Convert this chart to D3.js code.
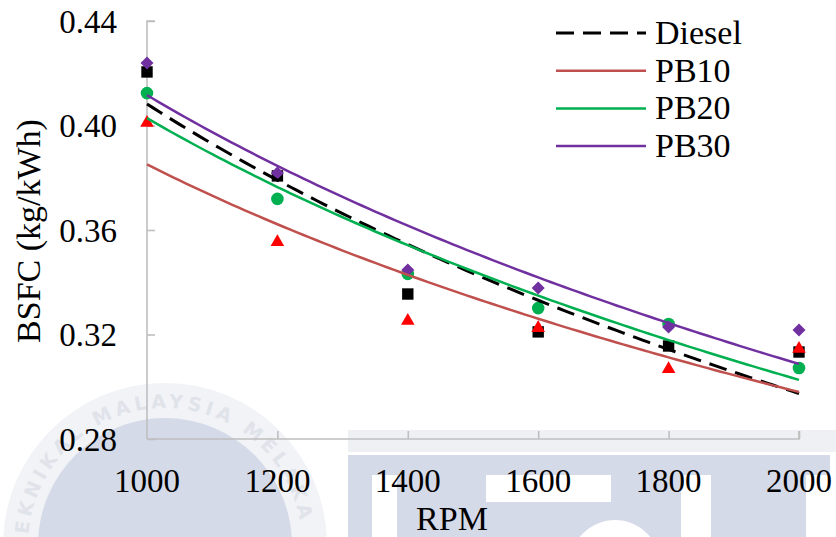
<!DOCTYPE html>
<html>
<head>
<meta charset="utf-8">
<script src="https://cdn.jsdelivr.net/npm/d3@7"></script>
<style>
  body { margin: 0; background: #fff; }
  svg { display: block; }
</style>
</head>
<body>
<div id="grafico"></div>
<script>
const WIDTH = 836;
const HEIGHT = 537;

// datos
const rpm = [1000, 1200, 1400, 1600, 1800, 2000];
const diesel = [0.4205, 0.3807, 0.3355, 0.3210, 0.3156, 0.3133];
const pb10 = [0.4010, 0.3554, 0.3252, 0.3225, 0.3068, 0.3145];
const pb20 = [0.4124, 0.3719, 0.3432, 0.3301, 0.3240, 0.3072];
const pb30 = [0.4239, 0.3818, 0.3447, 0.3378, 0.3229, 0.3217];
const seriesNames = ["Diesel", "PB10", "PB20", "PB30"];
const xTicks = [1000, 1200, 1400, 1600, 1800, 2000];
const yTicks = [0.28, 0.32, 0.36, 0.40, 0.44];

const series = [
    {name: "Diesel", values: diesel, color: "#000000", marker: "#000000", symbol: d3.symbolSquare, size: 130, rot: 0, dash: "18,9", width: 3},
    {name: "PB10", values: pb10, color: "#c0504d", marker: "#ff0000", symbol: d3.symbolTriangle, size: 80, rot: 0, dash: null, width: 2.5},
    {name: "PB20", values: pb20, color: "#00b050", marker: "#00b050", symbol: d3.symbolCircle, size: 125, rot: 0, dash: null, width: 2.5},
    {name: "PB30", values: pb30, color: "#7030a0", marker: "#7030a0", symbol: d3.symbolSquare, size: 85, rot: 45, dash: null, width: 2.5}
];

const font = "'Liberation Serif'";

let svg = d3.select("#grafico")
    .append("svg")
    .attr("width", WIDTH)
    .attr("height", HEIGHT);

// marca de agua (logo tenue)
let marca = svg.append("g");
marca.append("circle")
    .attr("cx", 165).attr("cy", 545).attr("r", 162)
    .style("fill", "#f2f3f7");
marca.append("circle")
    .attr("cx", 165).attr("cy", 545).attr("r", 127)
    .style("fill", "#d5dae8");
let arco = d3.path();
arco.arc(165, 545, 137, -Math.PI / 2 - 1.62, -Math.PI / 2 + 1.42);
marca.append("defs").append("path")
    .attr("id", "arcoLogo")
    .attr("d", arco.toString());
marca.append("text")
    .style("font-family", "'DejaVu Sans'")
    .style("font-size", "19px")
    .style("font-weight", "bold")
    .style("fill", "#e0e3ea")
    .append("textPath")
    .attr("href", "#arcoLogo")
    .attr("textLength", 412)
    .attr("lengthAdjust", "spacing")
    .text("TEKNIKAL MALAYSIA MELAKA");
marca.append("rect")
    .attr("x", 348).attr("y", 430).attr("width", 488).attr("height", 22)
    .style("fill", "#eef0f4");
marca.append("rect")
    .attr("x", 348).attr("y", 455).attr("width", 482).attr("height", 82)
    .style("fill", "#d5dae8");
marca.append("rect").attr("x", 372).attr("y", 475).attr("width", 25).attr("height", 62).style("fill", "#fff");
marca.append("rect").attr("x", 486).attr("y", 475).attr("width", 125).attr("height", 27).style("fill", "#fff");
marca.append("circle").attr("cx", 615).attr("cy", 565).attr("r", 45).style("fill", "#fff");
marca.append("rect").attr("x", 681).attr("y", 475).attr("width", 30).attr("height", 62).style("fill", "#fff");
marca.append("rect").attr("x", 806).attr("y", 475).attr("width", 24).attr("height", 62).style("fill", "#fff");

let x = d3.scaleLinear().domain([1000, 2000]).range([147, 799]);
let y = d3.scaleLinear().domain([0.28, 0.44]).range([439, 21]);

// ejes
let ejeY = svg.append("g")
    .attr("transform", "translate(147,0)")
    .call(d3.axisRight(y).tickValues(yTicks).tickSize(8).tickFormat(""));
let ejeX = svg.append("g")
    .attr("transform", "translate(0,439)")
    .call(d3.axisTop(x).tickValues(xTicks.slice(1)).tickSize(8).tickFormat(""));
svg.selectAll(".domain, .tick line")
    .style("stroke", "#bfbfbf")
    .style("stroke-width", 1.6);
ejeY.select(".domain").attr("d", "M8,21H0V439");
ejeX.select(".domain").attr("d", "M147,0H799V-8");

svg.append("g").selectAll("text")
    .data(yTicks)
    .enter()
    .append("text")
    .attr("x", 117)
    .attr("y", d => y(d))
    .attr("dy", "0.36em")
    .attr("text-anchor", "end")
    .style("font-family", font)
    .style("font-size", "33px")
    .text(d => d.toFixed(2));

svg.append("g").selectAll("text")
    .data(xTicks)
    .enter()
    .append("text")
    .attr("x", d => x(d))
    .attr("y", 492)
    .attr("text-anchor", "middle")
    .style("font-family", font)
    .style("font-size", "33px")
    .text(d => d);

svg.append("text")
    .attr("transform", "translate(40,231) rotate(-90)")
    .attr("text-anchor", "middle")
    .style("font-family", font)
    .style("font-size", "34px")
    .text("BSFC (kg/kWh)");

svg.append("text")
    .attr("x", 452)
    .attr("y", 530)
    .attr("text-anchor", "middle")
    .style("font-family", font)
    .style("font-size", "34px")
    .text("RPM");

// linea de tendencia logaritmica (como Excel): y = a + b * ln(x)
function ajusteLog(xs, ys) {
    let lx = xs.map(Math.log);
    let mx = d3.mean(lx), my = d3.mean(ys);
    let b = d3.sum(lx, (v, i) => (v - mx) * (ys[i] - my)) / d3.sum(lx, v => (v - mx) * (v - mx));
    let a = my - b * mx;
    return v => a + b * Math.log(v);
}

let linea = d3.line().x(d => x(d[0])).y(d => y(d[1]));
let xsCurva = d3.range(1000, 2001, 10);

// marcadores
series.forEach(s => {
    svg.append("g").selectAll("path")
        .data(rpm.map((r, i) => [r, s.values[i]]))
        .enter()
        .append("path")
        .attr("d", d3.symbol().type(s.symbol).size(s.size))
        .attr("transform", d => "translate(" + x(d[0]) + "," + y(d[1]) + ") rotate(" + s.rot + ")")
        .style("fill", s.marker);
});

// tendencias
series.forEach(s => {
    let f = ajusteLog(rpm, s.values);
    svg.append("path")
        .datum(xsCurva.map(v => [v, f(v)]))
        .attr("d", linea)
        .style("fill", "none")
        .style("stroke", s.color)
        .style("stroke-width", s.width)
        .style("stroke-dasharray", s.dash);
});

// leyenda
let leyenda = svg.append("g");
series.forEach((s, i) => {
    let ly = 33 + i * 37.7;
    leyenda.append("line")
        .attr("x1", 556).attr("x2", 646)
        .attr("y1", ly).attr("y2", ly)
        .style("stroke", s.color)
        .style("stroke-width", s.width)
        .style("stroke-dasharray", s.dash);
    leyenda.append("text")
        .attr("x", 655)
        .attr("y", ly + 11)
        .style("font-family", font)
        .style("font-size", "34px")
        .text(seriesNames[i]);
});
</script>
</body>
</html>
